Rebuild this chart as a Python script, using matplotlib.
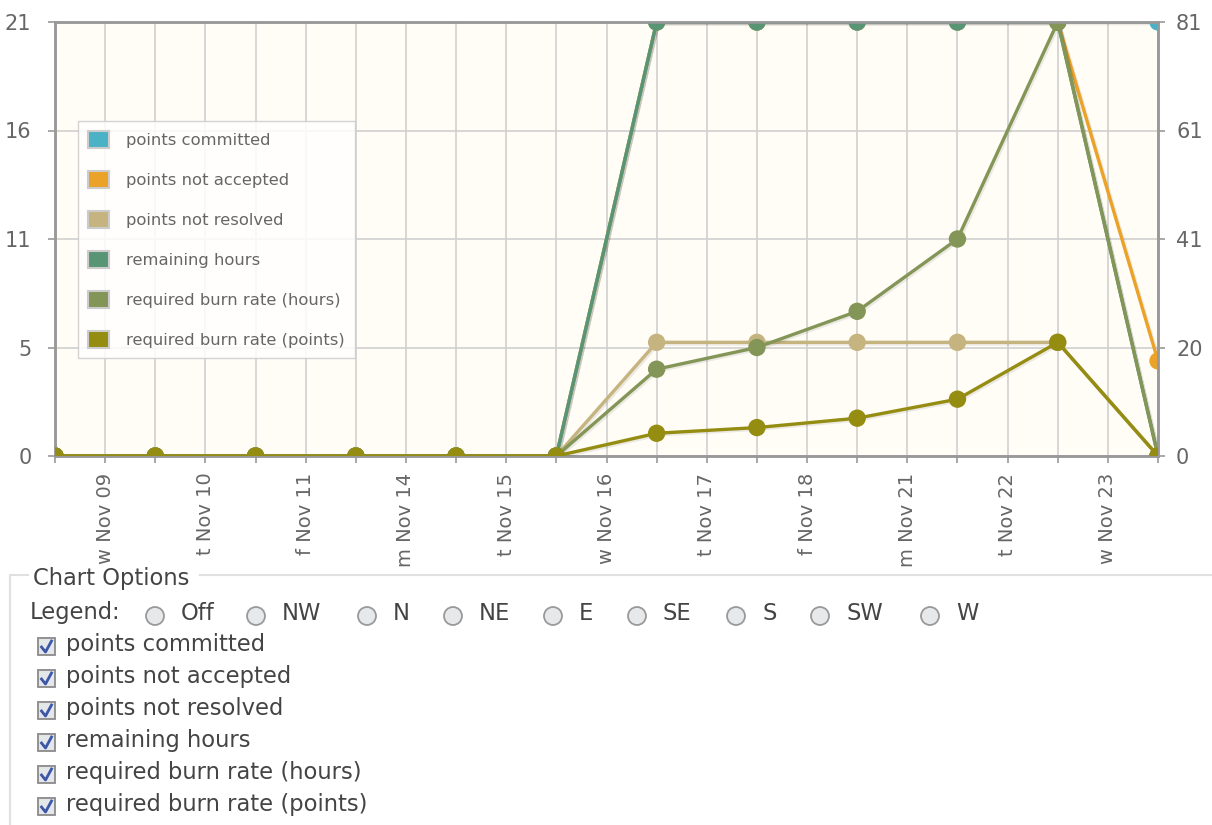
import numpy as np
import matplotlib
matplotlib.use('Agg')
import matplotlib.pyplot as plt
import matplotlib.patheffects as pe
from matplotlib.patches import Patch, Circle, Rectangle

# dane
dates = ['w Nov 09', 't Nov 10', 'f Nov 11', 'm Nov 14', 't Nov 15', 'w Nov 16',
         't Nov 17', 'f Nov 18', 'm Nov 21', 't Nov 22', 'w Nov 23']
points_committed = [0, 0, 0, 0, 0, 0, 21, 21, 21, 21, 21, 21]
points_not_accepted = [0, 0, 0, 0, 0, 0, 21, 21, 21, 21, 21, 4.6]
points_not_resolved = [0, 0, 0, 0, 0, 0, 5.5, 5.5, 5.5, 5.5, 5.5, 0]
remaining_hours = [0, 0, 0, 0, 0, 0, 81, 81, 81, 81, 81, 0]
burn_hours = [0, 0, 0, 0, 0, 0, 16.2, 20.25, 27, 40.5, 81, 0]
burn_points = [0, 0, 0, 0, 0, 0, 1.1, 1.375, 1.83, 2.75, 5.5, 0]

left_max = 21
right_max = 81

colors = {
    'points committed': '#4bb2c5',
    'points not accepted': '#eaa228',
    'points not resolved': '#c5b47f',
    'remaining hours': '#579575',
    'required burn rate (hours)': '#839557',
    'required burn rate (points)': '#958c12',
}

W, H = 1212, 825
fig = plt.figure(figsize=(W / 100, H / 100), dpi=100)
fig.patch.set_facecolor('white')

# pozycja obszaru wykresu w pikselach
L, R, T, B = 55, 1158, 22, 456
pos = [L / W, 1 - B / H, (R - L) / W, (B - T) / H]

ax = fig.add_axes(pos)
ax2 = ax.twinx()
ax3 = fig.add_axes(pos, sharex=ax, sharey=ax)
ax.set_zorder(1)
ax2.set_zorder(2)
ax3.set_zorder(3)
ax2.patch.set_visible(False)
ax3.patch.set_visible(False)
ax3.axis('off')
ax.set_facecolor('#fffdf6')

x = np.arange(len(points_committed))
lw = 2.4
ms = 12.5
shadow = [pe.SimpleLineShadow(offset=(1.2, -1.2), shadow_color='black', alpha=0.08),
          pe.Normal()]


def draw(a, y, name):
    ln, = a.plot(x, y, color=colors[name], lw=lw, marker='o', ms=ms,
                 markeredgewidth=0, solid_capstyle='round', path_effects=shadow)
    # przycinamy też znaczniki na krawędziach
    ln.set_clip_path(ax.patch)


draw(ax, points_committed, 'points committed')
draw(ax, points_not_accepted, 'points not accepted')
draw(ax, points_not_resolved, 'points not resolved')
draw(ax2, remaining_hours, 'remaining hours')
draw(ax2, burn_hours, 'required burn rate (hours)')
draw(ax3, burn_points, 'required burn rate (points)')

ax.set_xlim(0, len(x) - 1)
ax.set_ylim(0, left_max)
ax2.set_ylim(0, right_max)

lt = np.linspace(0, left_max, 5)
rt = np.linspace(0, right_max, 5)
ax.set_yticks(lt)
ax.set_yticklabels([str(int(v + 0.5)) for v in lt])
ax2.set_yticks(rt)
ax2.set_yticklabels([str(int(v + 0.5)) for v in rt])

ax.set_xticks(np.arange(len(dates)) + 0.5)
ax.set_xticklabels(dates, rotation=90, va='top', ha='center')
ax.set_xticks(x, minor=True)

ax.grid(True, which='both', color='#d0d0d0', lw=1.2)
ax.set_axisbelow(True)

for a in (ax, ax2):
    for s in a.spines.values():
        s.set_color('#999999')
        s.set_linewidth(1.8)
    a.tick_params(colors='#999999', labelcolor='#666666', labelsize=15,
                  length=5, width=1.2)
ax.tick_params(axis='y', pad=12)
ax2.tick_params(axis='y', pad=8)
ax.tick_params(axis='x', which='both', length=5, width=1.2, colors='#999999',
               labelcolor='#666666', labelsize=14, pad=7)

handles = [Patch(facecolor=c, edgecolor='#cccccc', lw=1.5) for c in colors.values()]
leg = ax3.legend(handles, list(colors.keys()), loc='upper left',
                 bbox_to_anchor=((78 - L) / (R - L), (B - 121) / (B - T)),
                 borderaxespad=0, fontsize=11.8, labelspacing=1.38,
                 handlelength=1.25, handleheight=1.25, handletextpad=1.05,
                 borderpad=0.62, fancybox=False, framealpha=0.85,
                 facecolor='white', edgecolor='#cccccc')
for t in leg.get_texts():
    t.set_color('#666666')

# panel "Chart Options" pod wykresem
ui = fig.add_axes([0, 0, 1, 1], zorder=0)
ui.set_xlim(0, W)
ui.set_ylim(H, 0)
ui.axis('off')

txt = '#444444'
fs = 16.3
ui.plot([10, 10, 28], [825, 575, 575], color='#e0e0e0', lw=1.5)
ui.plot([200, W], [575, 575], color='#e0e0e0', lw=1.5)
ui.text(33, 578, 'Chart Options', fontsize=fs, color=txt, va='center')

ui.text(30, 613, 'Legend:', fontsize=fs, color=txt, va='center')
radio_x = [155, 256, 367, 453, 553, 637, 736, 820, 930]
radio_lbl = ['Off', 'NW', 'N', 'NE', 'E', 'SE', 'S', 'SW', 'W']
for rx, rl in zip(radio_x, radio_lbl):
    ui.add_patch(Circle((rx, 616), 9, facecolor='#e6e8ea', edgecolor='#9a9a9a', lw=1.3))
    ui.text(rx + 26, 613, rl, fontsize=fs, color=txt, va='center')

checks = list(colors.keys())
for i, name in enumerate(checks):
    cy = 646 + i * 32
    ui.add_patch(Rectangle((38, cy - 8), 17, 17, facecolor='#e4e6ea',
                           edgecolor='#8a8a8a', lw=1.3))
    ui.plot([41.5, 45.5, 51.5], [cy + 1, cy + 6, cy - 5], color='#3b57a8', lw=2)
    ui.text(66, cy - 2, name, fontsize=fs, color=txt, va='center')

fig.savefig('out.png', dpi=100)
